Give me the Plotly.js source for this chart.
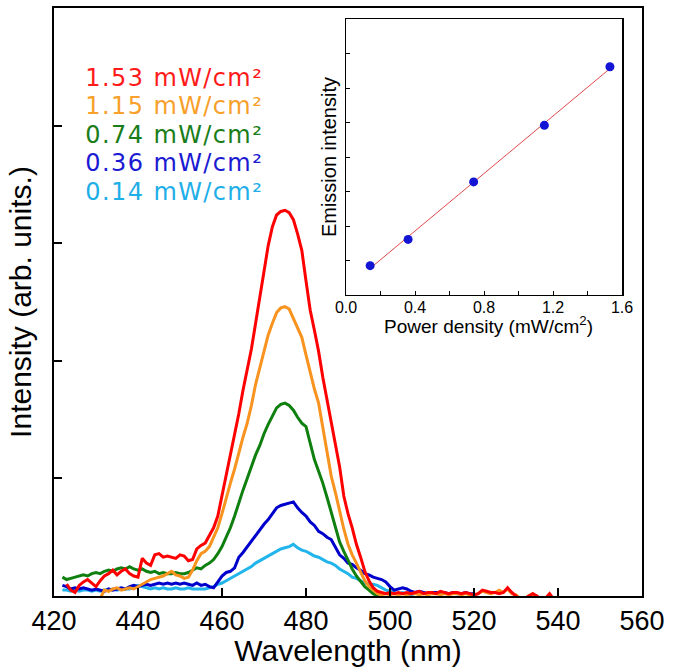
<!DOCTYPE html>
<html>
<head>
<meta charset="utf-8">
<script src="https://cdn.plot.ly/plotly-3.0.1.min.js"></script>
<style>
html,body{margin:0;padding:0;background:#fff;}
#chart{width:675px;height:667px;}
.legend-label .annotation-text{letter-spacing:1.4px;}
</style>
</head>
<body>
<div id="chart"></div>
<script>
// Wavelength grid (nm)
const WAVELENGTH = [422,423,424,425,426,427,428,429,430,431,432,433,434,435,436,437,438,439,440,441,442,443,444,445,446,447,448,449,450,451,452,453,454,455,456,457,458,459,460,461,462,463,464,465,466,467,468,469,470,471,472,473,474,475,476,477,478,479,480,481,482,483,484,485,486,487,488,489,490,491,492,493,494,495,496,497,498,499,500,501,502,503,504,505,506,507,508,509,510,511,512,513,514,515,516,517,518,519,520,521,522,523,524,525,526,527,528,529,530,531,532,533,534,535,536,537,538,539,540];

// Emission spectra (arb. units), one value per wavelength above; null = not drawn
const I_153 = [null,0.10,0.05,0.03,0.09,0.12,0.14,0.11,0.08,0.13,0.17,0.19,0.22,0.18,0.21,0.23,0.19,0.17,0.16,0.32,0.28,0.26,0.35,0.36,0.33,0.34,0.33,0.32,0.35,0.34,0.30,0.31,0.40,0.43,0.45,0.52,0.58,0.68,0.85,1.05,1.20,1.36,1.55,1.75,1.92,2.10,2.32,2.55,2.78,2.98,3.14,3.24,3.27,3.28,3.26,3.20,3.08,2.94,2.68,2.43,2.26,2.08,1.86,1.67,1.48,1.27,1.10,0.85,0.70,0.58,0.44,0.33,0.21,0.13,0.07,0.04,0.03,0.02,0.03,0.02,0.03,0.02,0.03,0.02,0.03,0.04,0.02,0.03,0.03,0.02,0.04,0.03,0.02,0.03,0.03,0.02,0.03,0.02,0.01,0.02,0.05,0.04,0.03,0.03,0.02,0.03,0.07,0.03,0.00,-0.03,-0.03,0.00,0.02,0.00,-0.03,-0.02,0.02,-0.03,null];
const I_115 = [null,null,null,null,null,null,null,null,null,-0.02,0.05,0.04,0.06,0.07,0.05,0.06,0.07,0.06,0.08,0.10,0.12,0.14,0.15,0.16,0.17,0.19,0.21,0.18,0.17,0.15,0.16,0.22,0.30,0.36,0.38,0.42,0.50,0.58,0.70,0.84,0.96,1.08,1.22,1.35,1.47,1.62,1.80,1.94,2.10,2.22,2.32,2.41,2.45,2.46,2.44,2.36,2.28,2.20,2.05,1.90,1.76,1.64,1.43,1.22,1.02,0.88,0.72,0.57,0.44,0.35,0.28,0.20,0.13,0.08,0.05,0.02,0.01,0.02,0.01,0.02,0.01,0.02,0.01,0.02,0.02,0.01,0.02,0.01,0.02,0.02,0.01,0.02,0.01,0.02,0.02,0.01,0.02,0.01,0.01,0.02,0.04,0.03,0.02,0.03,0.05,0.03,0.06,0.02,0.01,-0.02,-0.02,0.00,0.02,-0.02,null,null,null,null,null];
const I_074 = [0.16,0.14,0.15,0.16,0.17,0.18,0.17,0.19,0.20,0.19,0.21,0.22,0.21,0.23,0.24,0.23,0.25,0.23,0.22,0.23,0.21,0.20,0.21,0.19,0.20,0.19,0.19,0.20,0.19,0.19,0.20,0.22,0.24,0.23,0.26,0.28,0.31,0.36,0.42,0.50,0.58,0.68,0.80,0.90,1.00,1.10,1.20,1.28,1.38,1.46,1.53,1.60,1.63,1.64,1.62,1.58,1.52,1.47,1.44,1.30,1.16,1.06,0.96,0.84,0.71,0.57,0.46,0.38,0.30,0.23,0.17,0.12,0.08,0.05,0.02,0.00,-0.03];
const I_036 = [0.09,0.08,0.06,0.07,0.06,0.07,0.06,0.05,0.06,0.05,0.04,0.06,0.05,0.06,0.07,0.06,0.08,0.09,0.08,0.09,0.10,0.09,0.10,0.11,0.10,0.11,0.10,0.11,0.10,0.11,0.10,0.09,0.11,0.09,0.10,0.08,0.07,0.12,0.17,0.20,0.21,0.24,0.33,0.37,0.42,0.46,0.52,0.56,0.61,0.65,0.70,0.75,0.77,0.78,0.79,0.80,0.75,0.71,0.68,0.63,0.60,0.55,0.53,0.50,0.48,0.42,0.35,0.32,0.28,0.27,0.24,0.22,0.19,0.18,0.16,0.15,0.14,0.12,0.08,0.05,0.06,0.07,0.06,0.04,0.03,0.04,0.03,0.02,0.03,0.03,0.02,0.03,0.02,0.03,0.02,0.02,0.03,0.02,0.02,-0.03];
const I_014 = [0.05,0.05,0.04,0.05,0.04,0.05,0.05,0.04,0.05,0.04,0.05,0.05,0.06,0.05,0.06,0.06,0.06,0.08,0.09,0.08,0.07,0.06,0.07,0.06,0.07,0.06,0.06,0.07,0.06,0.06,0.07,0.06,0.06,0.06,0.06,0.07,0.08,0.10,0.11,0.13,0.15,0.17,0.19,0.21,0.23,0.25,0.28,0.30,0.32,0.34,0.36,0.38,0.40,0.41,0.42,0.44,0.41,0.39,0.38,0.36,0.34,0.33,0.31,0.29,0.28,0.26,0.23,0.21,0.19,0.16,0.15,0.13,0.11,0.10,0.10,0.09,0.07,0.05,0.04,0.03,0.02,0.03,0.02,0.01,-0.03];

// Series labels and colours
const SERIES_LABELS = ["1.53 mW/cm\u00B2","1.15 mW/cm\u00B2","0.74 mW/cm\u00B2","0.36 mW/cm\u00B2","0.14 mW/cm\u00B2"];
const LINE_COLORS = ["#ff0000","#f7931e","#0f800f","#0000cc","#22b5ec"];
const TEXT_COLORS = ["#ff1a1a","#f7a02b","#1a7d1a","#1a1ad2","#1eaee8"];

// Inset: integrated emission intensity vs power density
const POWER_DENSITY = [0.14,0.36,0.74,1.15,1.53];
const EMISSION = [0.85,1.61,3.28,4.92,6.62];

// Tick labels and titles
const X_TICKS = [420,440,460,480,500,520,540,560];
const INSET_X_TICKVALS = [0,0.4,0.8,1.2,1.6];
const INSET_X_TICKTEXT = ["0.0","0.4","0.8","1.2","1.6"];
const INSET_X_MINOR = [0.2,0.6,1.0,1.4];
const INSET_X_TITLE = "Power density (mW/cm<sup>2</sup>)";

const spectra = [I_153, I_115, I_074, I_036, I_014];

// least-squares fit line for the inset
function linfit(x, y){
  const n = x.length; let sx=0, sy=0, sxx=0, sxy=0;
  for (let i=0;i<n;i++){ sx+=x[i]; sy+=y[i]; sxx+=x[i]*x[i]; sxy+=x[i]*y[i]; }
  const b = (n*sxy - sx*sy)/(n*sxx - sx*sx); const a = (sy - b*sx)/n;
  return [a,b];
}
const [fa, fb] = linfit(POWER_DENSITY, EMISSION);
const fitX = [POWER_DENSITY[0], POWER_DENSITY[POWER_DENSITY.length-1]];
const fitY = fitX.map(v => fa + fb*v);

const traces = [];
for (let k = spectra.length-1; k >= 0; k--) {
  traces.push({
    type:'scatter', mode:'lines', x: WAVELENGTH, y: spectra[k],
    name: SERIES_LABELS[k],
    line:{color: LINE_COLORS[k], width:3}, connectgaps:false,
    xaxis:'x', yaxis:'y', hoverinfo:'skip'
  });
}
traces.push({type:'scatter', mode:'lines', x: fitX, y: fitY, line:{color:'#e0474c', width:1},
  xaxis:'x2', yaxis:'y2', hoverinfo:'skip', name:'fit'});
traces.push({type:'scatter', mode:'markers', x: POWER_DENSITY, y: EMISSION,
  marker:{color:'#1414d4', size:9, line:{width:0}},
  xaxis:'x2', yaxis:'y2', hoverinfo:'skip', name:'data'});

const SANS = '"Liberation Sans", Arial, sans-serif';
const annotations = SERIES_LABELS.map((t,k)=>({
  xref:'paper', yref:'paper', x:(92-54)/588, xanchor:'left',
  y:(596 - (78 + k*28.4))/588, yanchor:'middle',
  text:t, showarrow:false, borderpad:0,
  font:{family:'"DejaVu Sans", sans-serif', size:24, color:TEXT_COLORS[k]}
}));
// inset x-axis title, placed right under its tick labels
annotations.push({
  xref:'paper', yref:'paper', x:(488-54)/588, xanchor:'center',
  y:(596-325)/588, yanchor:'middle', text:INSET_X_TITLE, showarrow:false, borderpad:0,
  font:{family:SANS, size:19, color:'#000'}
});

const layout = {
  width:675, height:667,
  margin:{l:54, r:33, t:8, b:71, pad:0},
  paper_bgcolor:'#fff', plot_bgcolor:'#fff',
  showlegend:false,
  font:{family:SANS, color:'#000'},
  xaxis:{
    domain:[0,1], range:[420,560], tickvals:X_TICKS, ticks:'inside', ticklen:8, tickwidth:2,
    tickcolor:'#000', showline:true, linecolor:'#000', linewidth:2, mirror:true,
    showgrid:false, zeroline:false, tickfont:{size:27, family:SANS, color:'#000'},
    title:{text:'Wavelength (nm)', font:{size:30, family:SANS, color:'#000'}, standoff:0}
  },
  yaxis:{
    domain:[0,1], range:[0,5], tickvals:[1,2,3,4], showticklabels:false, ticks:'inside', ticklen:8, tickwidth:2,
    tickcolor:'#000', showline:true, linecolor:'#000', linewidth:2, mirror:true,
    showgrid:false, zeroline:false,
    title:{text:'\u00A0Intensity (arb. units.)', font:{size:30, family:SANS, color:'#000'}, standoff:12}
  },
  xaxis2:{
    domain:[0.4966,0.966], anchor:'y2', range:[0,1.6], tickvals:INSET_X_TICKVALS, ticktext:INSET_X_TICKTEXT,
    ticks:'inside', ticklen:4, tickwidth:1, tickcolor:'#000', showline:true, linecolor:'#000', linewidth:1.5, mirror:true,
    minor:{tickvals:INSET_X_MINOR, ticks:'inside', ticklen:4, tickwidth:1, tickcolor:'#000', showgrid:false},
    showgrid:false, zeroline:false, tickfont:{size:16, family:SANS, color:'#000'}, ticklabelstandoff:-3
  },
  yaxis2:{
    domain:[0.512,0.981], anchor:'x2', range:[0,8], tickvals:[1,2,3,4,5,6,7], showticklabels:false,
    ticks:'inside', ticklen:4, tickwidth:1, tickcolor:'#000', showline:true, linecolor:'#000', linewidth:1.5, mirror:true,
    showgrid:false, zeroline:false,
    title:{text:'Emission intensity', font:{size:20, family:SANS, color:'#000'}, standoff:2}
  },
  annotations: annotations
};

Plotly.newPlot('chart', traces, layout, {displayModeBar:false, staticPlot:true}).then(()=>{
  document.querySelectorAll('#chart .annotation').forEach((g,i)=>{ if(i<SERIES_LABELS.length) g.classList.add('legend-label'); });
});
</script>
</body>
</html>
